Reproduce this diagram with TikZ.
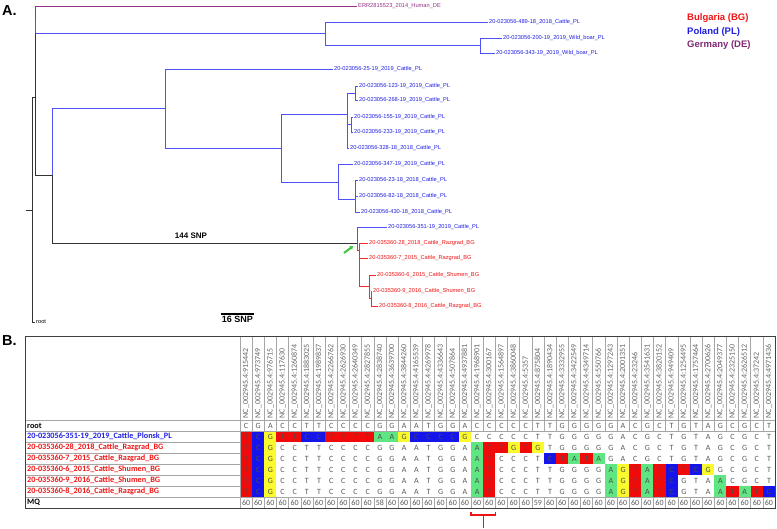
\documentclass[tikz,border=0pt]{standalone}
\usepackage{fontspec}
\setmainfont{Liberation Sans}
\newfontfamily\calib{Carlito}
\usepackage{tikz}
\usepackage{xcolor}
\usetikzlibrary{arrows.meta, calc}

\definecolor{plblue}{RGB}{80,80,250}
\definecolor{bgred}{RGB}{250,40,40}
\definecolor{depurple}{RGB}{150,50,135}
\definecolor{tblblue}{RGB}{30,30,225}
\definecolor{tblred}{RGB}{240,20,20}
\definecolor{cr}{RGB}{240,10,10}
\definecolor{cb}{RGB}{20,20,235}
\definecolor{cy}{RGB}{250,250,45}
\definecolor{cg}{RGB}{95,230,130}
\definecolor{snpgreen}{RGB}{60,200,60}

\begin{document}
\begin{tikzpicture}[x=1pt, y=-1pt,
    pl/.style={draw=plblue, line width=1pt},
    bg/.style={draw=bgred, line width=1pt},
    de/.style={draw=depurple, line width=1pt},
    blk/.style={draw=black!80, line width=1pt},
    tip/.style={anchor=west, inner sep=1pt, font=\fontsize{5.7}{6}\selectfont},
    legend/.style={anchor=west, inner sep=0pt, font=\bfseries\fontsize{9.5}{10}\selectfont},
    hdr/.style={rotate=90, anchor=west, inner sep=0pt, text=black!60, font=\calib\fontsize{8}{8}\selectfont},
    base/.style={inner sep=0pt, text=black!65, font=\calib\fontsize{8}{8}\selectfont},
    rowname/.style={anchor=west, inner sep=0pt, font=\calib\bfseries\fontsize{8.2}{8.2}\selectfont},
    grid/.style={draw=black!35, line width=0.5pt},
    brk/.style={color=tblred, line width=1.2pt}]
\useasboundingbox (0,0) rectangle (777,528);
\def\colw{12.16}

% panel A
\node[anchor=west, inner sep=0pt, font=\bfseries\fontsize{14.5}{15}\selectfont] (lblA) at (2,11) {A.};

\coordinate (nR) at (32,210);
\coordinate (nA) at (35,97);
\coordinate (nB) at (325,33);
\coordinate (nO) at (480,45);
\coordinate (nC) at (52,175);
\coordinate (nD) at (165,108);
\coordinate (nF) at (281,148);
\coordinate (nG) at (347,114);
\coordinate (nI) at (355,93);
\coordinate (nJ) at (351,124);
\coordinate (nH) at (338,182);
\coordinate (nK) at (355,199);
\coordinate (nE) at (357,243);
\coordinate (nL) at (359,250);
\coordinate (nM) at (369,286);
\coordinate (nN) at (371,298);

\node[tip, text=depurple] (lERR) at (357,6) {ERR2815523\_2014\_Human\_DE};
\node[tip, text=tblblue] (l489) at (488,22) {20-023056-489-18\_2018\_Cattle\_PL};
\node[tip, text=tblblue] (l200) at (502,38) {20-023056-200-19\_2019\_Wild\_boar\_PL};
\node[tip, text=tblblue] (l343) at (495,53) {20-023056-343-19\_2019\_Wild\_boar\_PL};
\node[tip, text=tblblue] (l25) at (333,69) {20-023056-25-19\_2019\_Cattle\_PL};
\node[tip, text=tblblue] (l123) at (358,86) {20-023056-123-19\_2019\_Cattle\_PL};
\node[tip, text=tblblue] (l268) at (358,100) {20-023056-268-19\_2019\_Cattle\_PL};
\node[tip, text=tblblue] (l155) at (353,117) {20-023056-155-19\_2019\_Cattle\_PL};
\node[tip, text=tblblue] (l233) at (353,132) {20-023056-233-19\_2019\_Cattle\_PL};
\node[tip, text=tblblue] (l328) at (349,148) {20-023056-328-18\_2018\_Cattle\_PL};
\node[tip, text=tblblue] (l347) at (353,164) {20-023056-347-19\_2019\_Cattle\_PL};
\node[tip, text=tblblue] (l23) at (358,180) {20-023056-23-18\_2018\_Cattle\_PL};
\node[tip, text=tblblue] (l82) at (358,196) {20-023056-82-18\_2018\_Cattle\_PL};
\node[tip, text=tblblue] (l430) at (360,212) {20-023056-430-18\_2018\_Cattle\_PL};
\node[tip, text=tblblue] (l351) at (387,227) {20-023056-351-19\_2019\_Cattle\_PL};
\node[tip, text=tblred] (l28) at (368,243) {20-035360-28\_2018\_Cattle\_Razgrad\_BG};
\node[tip, text=tblred] (l7) at (368,258) {20-035360-7\_2015\_Cattle\_Razgrad\_BG};
\node[tip, text=tblred] (l6) at (376,275) {20-035360-6\_2015\_Cattle\_Shumen\_BG};
\node[tip, text=tblred] (l9) at (372,291) {20-035360-9\_2016\_Cattle\_Shumen\_BG};
\node[tip, text=tblred] (l8) at (378,306) {20-035360-8\_2016\_Cattle\_Razgrad\_BG};
\node[tip] (lroot) at (35,322) {root};

% branches
\draw[blk] (nR) |- (nA);
\draw[blk] (nR) |- (lroot);
\draw[blk] (nR) -- ++(-6,0);
\draw[de] (lERR) -| ($(nA |- lERR)!0.5!(nA |- nB)$);
\draw[pl] ($(nA |- lERR)!0.5!(nA |- nB)$) |- (nB);
\draw[blk] (nA |- nB) -- (nA |- nC) -- (nC);
\draw[pl] (nB) |- (l489);
\draw[pl] (nB) |- (nO);
\draw[pl] (nO) |- (l200);
\draw[pl] (nO) |- (l343);
\draw[pl] (nC) |- (nD);
\draw[blk] (nC) |- (nE);
\draw[pl] (nD) |- (l25);
\draw[pl] (nD) |- (nF);
\draw[pl] (nF) |- (nG);
\draw[pl] (nF) |- (nH);
\draw[pl] (nG) |- (nI);
\draw[pl] (nG) |- (nJ);
\draw[pl] (nG) |- (l328);
\draw[pl] (nI) |- (l123);
\draw[pl] (nI) |- (l268);
\draw[pl] (nJ) |- (l155);
\draw[pl] (nJ) |- (l233);
\draw[pl] (nH) |- (l347);
\draw[pl] (nH) |- (nK);
\draw[pl] (nK) |- (l23);
\draw[pl] (nK) |- (l82);
\draw[pl] (nK) |- (l430);
\draw[pl] (nE) |- (l351);
\draw[bg] (nE) |- (nL);
\draw[bg] (nL) |- (l28);
\draw[bg] (nL) |- (l7);
\draw[bg] (nL) |- (nM);
\draw[bg] (nM) |- (l6);
\draw[bg] (nM) |- (nN);
\draw[bg] (nN) |- (l9);
\draw[bg] (nN) |- (l8);

\coordinate (gA) at (344,253);
\draw[draw=snpgreen, line width=2pt, -{Triangle[length=3pt,width=4.5pt]}, shorten >=5pt] (gA) -- (nE);

\node[font=\bfseries\fontsize{8}{8}\selectfont] (snp) at (191,236) {144 SNP};
\coordinate (sb1) at (221,314);
\coordinate (sb2) at (254,314);
\draw[black, line width=1.2pt] (sb1) -- (sb2) node[midway, below=1.5pt, inner sep=0pt, font=\bfseries\fontsize{9}{9}\selectfont] (sbl) {16 SNP};

\node[legend, text=tblred] (lgBG) at (687,18) {Bulgaria (BG)};
\node[legend, text=tblblue] (lgPL) at (687,32) {Poland (PL)};
\node[legend, text=depurple!85!black] (lgDE) at (687,45) {Germany (DE)};

% panel B
\node[anchor=west, inner sep=0pt, font=\bfseries\fontsize{14.5}{15}\selectfont] (lblB) at (2,341) {B.};

\foreach \p [count=\n] in {915442,973749,976715,117630,1260874,1883025,1989837,2266762,2626930,2640349,2827855,2838740,3639700,3844260,4165539,4269978,4336643,507864,4937881,1968901,300167,1564897,3860048,5357,875804,1890434,3332955,3422549,4349714,550766,1297243,2001351,23246,3541631,3820152,949409,1254495,1757464,2700626,2049377,2325150,2626512,37242,4971436}
  \node[hdr] (h\n) at ({240+\colw*(\n-0.5)},418.5) {NC\_002945.4:\p};

% root alleles, repeated in every sample row
\foreach \bs [count=\n] in {C,G,A,C,C,T,T,C,C,C,C,G,G,A,A,T,G,G,A,C,C,C,C,C,T,T,G,G,G,G,G,A,C,G,C,T,G,T,A,G,C,G,C,T}
  \foreach \rw in {0,...,6}
    \node[base] (a\rw c\n) at ({240+\colw*(\n-0.5)},{425.5+11*\rw}) {\bs};

% SNPs differing from root
\foreach \rw/\n/\bs/\fc in {1/1/T/cr,1/2/C/cb,1/3/G/cy,1/4/T/cr,1/5/T/cr,1/6/C/cb,1/7/C/cb,1/8/T/cr,1/9/T/cr,1/10/T/cr,1/11/T/cr,1/12/A/cg,1/13/A/cg,1/14/G/cy,1/15/C/cb,1/16/C/cb,1/17/C/cb,1/18/C/cb,1/19/G/cy,
  2/1/T/cr,2/2/C/cb,2/3/G/cy,2/20/A/cg,2/21/T/cr,2/22/T/cr,2/23/G/cy,2/24/T/cr,2/25/G/cy,
  3/1/T/cr,3/2/C/cb,3/3/G/cy,3/20/A/cg,3/21/T/cr,3/26/C/cb,3/27/T/cr,3/28/A/cg,3/29/T/cr,3/30/A/cg,
  4/1/T/cr,4/2/C/cb,4/3/G/cy,4/20/A/cg,4/21/T/cr,4/31/A/cg,4/32/G/cy,4/33/T/cr,4/34/A/cg,4/35/T/cr,4/36/C/cb,4/37/T/cr,4/38/C/cb,4/39/G/cy,
  5/1/T/cr,5/2/C/cb,5/3/G/cy,5/20/A/cg,5/21/T/cr,5/31/A/cg,5/32/G/cy,5/33/T/cr,5/34/A/cg,5/35/T/cr,5/36/C/cb,5/40/A/cg,
  6/1/T/cr,6/2/C/cb,6/3/G/cy,6/20/A/cg,6/21/T/cr,6/31/A/cg,6/32/G/cy,6/33/T/cr,6/34/A/cg,6/35/T/cr,6/36/C/cb,6/40/A/cg,6/41/T/cr,6/42/A/cg,6/43/T/cr,6/44/C/cb}
{
  \fill[\fc] ({240+\colw*(\n-1)},{420+11*\rw}) rectangle ++(\colw,11);
  \node[base, text=black!70] (s\rw c\n) at ({240+\colw*(\n-0.5)},{425.5+11*\rw}) {\bs};
}

\foreach \q [count=\n] in {60,60,60,60,60,60,60,60,60,60,60,58,60,60,60,60,60,60,60,60,60,60,60,60,59,60,60,60,60,60,60,60,60,60,60,60,60,60,60,60,60,60,60,60}
  \node[base] (mq\n) at ({240+\colw*(\n-0.5)},502.5) {\q};

\node[rowname] (nm0) at (27,425.5) {root};
\node[rowname, text=tblblue] (nm1) at (27,436.5) {20-023056-351-19\_2019\_Cattle\_Plonsk\_PL};
\node[rowname, text=tblred] (nm2) at (27,447.5) {20-035360-28\_2018\_Cattle\_Razgrad\_BG};
\node[rowname, text=tblred] (nm3) at (27,458.5) {20-035360-7\_2015\_Cattle\_Razgrad\_BG};
\node[rowname, text=tblred] (nm4) at (27,469.5) {20-035360-6\_2015\_Cattle\_Shumen\_BG};
\node[rowname, text=tblred] (nm5) at (27,480.5) {20-035360-9\_2016\_Cattle\_Shumen\_BG};
\node[rowname, text=tblred] (nm6) at (27,491.5) {20-035360-8\_2016\_Cattle\_Razgrad\_BG};
\node[rowname] (nm7) at (27,502.5) {MQ};

% grid
\foreach \n in {1,...,43} {
  \draw[grid] ({240+\colw*\n},336) -- ({240+\colw*\n},431);
  \draw[grid] ({240+\colw*\n},497) -- ({240+\colw*\n},508);
}
\foreach \y in {420,431,497}
  \draw[grid] (25,\y) -- (775,\y);
\foreach \y in {442,453,464,475,486}
  \draw[grid] (25,\y) -- (240,\y);
\draw[grid] (240,336) -- (240,508);
\draw[black!75, line width=0.8pt] (25,336) rectangle (775,508);

% bracket under the two shared SNPs
\coordinate (br1) at ({240+\colw*19},512);
\coordinate (br2) at ({240+\colw*21},512);
\draw[brk] (br1) -- ++(0,3) coordinate (bk) -- (bk -| br2) -- (br2);
\draw[brk] ($(br1)!0.5!(br2)+(0,3)$) -- ++(0,13);
\end{tikzpicture}
\end{document}
